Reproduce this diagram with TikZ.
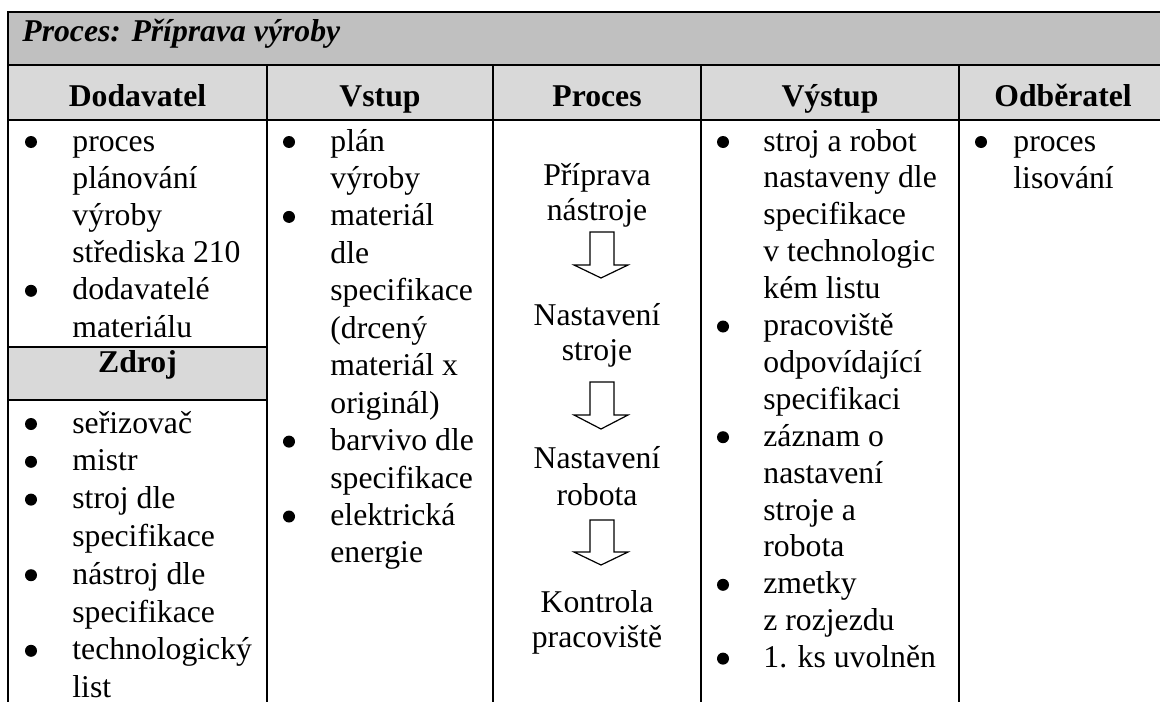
\documentclass[tikz,border=0pt]{standalone}
\usepackage{fontspec}
\setmainfont{Liberation Serif}
\definecolor{titlegray}{HTML}{C0C0C0}
\definecolor{headgray}{HTML}{D9D9D9}
\begin{document}
\begin{tikzpicture}[x=0.5pt,y=-0.5pt,
  rule/.style={line width=1.3pt,line cap=rect},
  basefont/.style={font=\fontsize{15.85}{18.5}\selectfont},
  celltxt/.style={basefont,anchor=base west,inner sep=0pt},
  headtxt/.style={font=\fontsize{15.85}{18.5}\selectfont\bfseries,anchor=base,inner sep=0pt},
  titletxt/.style={font=\fontsize{15.85}{18.5}\selectfont\bfseries\itshape,anchor=base west,inner sep=0pt},
  steptxt/.style={basefont,anchor=base,inner sep=0pt},
  blockarrow/.style={draw,line width=0.6pt,fill=white,line join=miter}]
\useasboundingbox (0,0) rectangle (1160,701);
\clip (0,0) rectangle (1160,701);

% shaded rows
\fill[titlegray] (8,12) rectangle (1167,65);
\fill[headgray] (8,65) rectangle (1167,120);
\fill[headgray] (8,347) rectangle (267,400);

% table rules
\draw[rule] (8,12) -- (1167,12);
\draw[rule] (8,65) -- (1167,65);
\draw[rule] (8,120) -- (1167,120);
\draw[rule] (8,347) -- (267,347);
\draw[rule] (8,400) -- (267,400);
\draw[rule] (8,12) -- (8,720);
\draw[rule] (1167,12) -- (1167,720);
\foreach \cx in {267,493,701,959}
  \draw[rule] (\cx,65) -- (\cx,720);

% title and column headings
\node[titletxt] (title) at (22,42) {Proces: Příprava výroby};
\node[headtxt] (hdod) at (137.5,106) {Dodavatel};
\node[headtxt] (hvst) at (380,106) {Vstup};
\node[headtxt] (hpro) at (597,106) {Proces};
\node[headtxt] (hvys) at (830,106) {Výstup};
\node[headtxt] (hodb) at (1063,106) {Odběratel};
\node[headtxt] (hzdr) at (137.5,372) {Zdroj};

% Dodavatel
\foreach \t [count=\i from 0] in {{proces},{plánování},{výroby},{střediska 210},{dodavatelé},{materiálu}}
  \node[celltxt] (dod\i) at (72,151+37.2*\i) {\t};
\foreach \k in {0,4}
  \fill (31,151+37.2*\k-9) circle (3pt);

% Zdroj
\foreach \t [count=\i from 0] in {{seřizovač},{mistr},{stroj dle},{specifikace},{nástroj dle},{specifikace},{technologický},{list}}
  \node[celltxt] (zdr\i) at (72,433+37.8*\i) {\t};
\foreach \k in {0,1,2,4,6}
  \fill (31,433+37.8*\k-9) circle (3pt);

% Vstup
\foreach \t [count=\i from 0] in {{plán},{výroby},{materiál},{dle},{specifikace},{(drcený},{materiál x},{originál)},{barvivo dle},{specifikace},{elektrická},{energie}}
  \node[celltxt] (vst\i) at (330,151+37.45*\i) {\t};
\foreach \k in {0,2,8,10}
  \fill (289,151+37.45*\k-9) circle (3pt);

% Výstup
\foreach \t [count=\i from 0] in {{stroj a robot},{nastaveny dle},{specifikace},{v technologic},{kém listu},{pracoviště},{odpovídající},{specifikaci},{záznam o},{nastavení},{stroje a},{robota},{zmetky},{z rozjezdu},{1. ks uvolněn}}
  \node[celltxt] (vys\i) at (763,151+36.9*\i) {\t};
\foreach \k in {0,5,8,12,14}
  \fill (723,151+36.9*\k-9) circle (3pt);

% Odběratel
\foreach \t [count=\i from 0] in {{proces},{lisování}}
  \node[celltxt] (odb\i) at (1013,151+37*\i) {\t};
\fill (981,142) circle (3pt);

% Proces steps
\node[steptxt] (s1a) at (597,185) {Příprava};
\node[steptxt] (s1b) at (597,220) {nástroje};
\node[steptxt] (s2a) at (597,325) {Nastavení};
\node[steptxt] (s2b) at (597,360) {stroje};
\node[steptxt] (s3a) at (597,468) {Nastavení};
\node[steptxt] (s3b) at (597,505) {robota};
\node[steptxt] (s4a) at (597,612) {Kontrola};
\node[steptxt] (s4b) at (597,647) {pracoviště};

% block arrows between steps
\foreach \top/\base/\tip in {232/265/278, 382/415/429, 520/552/565}
  \draw[blockarrow] (590,\top) -- (614,\top) -- (614,\base) -- (628,\base)
    -- (601,\tip) -- (574,\base) -- (590,\base) -- cycle;
\end{tikzpicture}
\end{document}
